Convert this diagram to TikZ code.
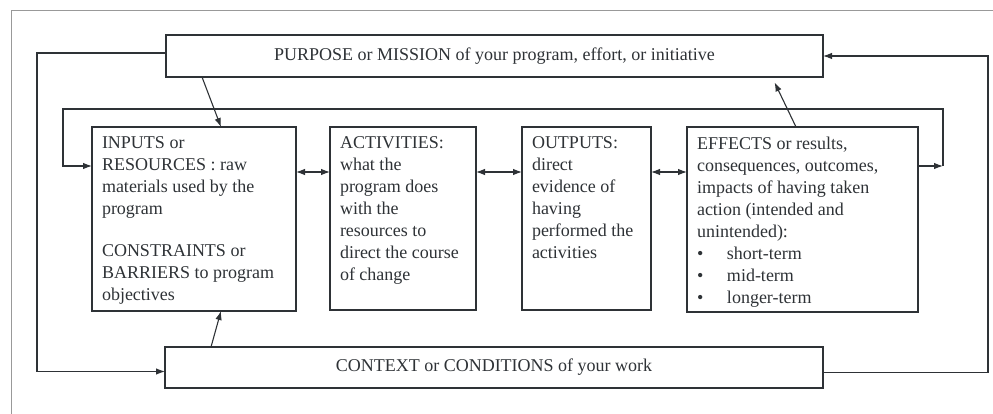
\documentclass[tikz,border=0pt]{standalone}
\usepackage{fontspec}
\setmainfont{Liberation Serif}
\usetikzlibrary{arrows.meta}
\definecolor{ink}{HTML}{2E3236}
\tikzset{
  stage/.style={draw=ink, line width=1.1pt, inner xsep=10pt, inner ysep=10pt,
    outer sep=0pt, anchor=north west, text=ink, font=\fontsize{18}{22}\selectfont},
  banner/.style={draw=ink, line width=1.1pt, outer sep=0pt, text=ink,
    font=\fontsize{18}{22}\selectfont},
  arr/.style={draw=ink, line width=1.1pt, -{Latex[length=9pt,width=6.5pt]}},
  dbl/.style={draw=ink, line width=1.1pt, {Latex[length=9pt,width=6.5pt]}-{Latex[length=9pt,width=6.5pt]}},
}
\begin{document}
\begin{tikzpicture}[x=1pt, y=-1pt]
    \useasboundingbox (0,0) rectangle (993,414);
    % the frame
    \draw[gray!80, line width=1pt] (11,414) -- (11,11) -- (993,11);
    % top and bottom bars
    \node[banner, minimum width=657pt, minimum height=42pt] (purpose) at (494.5,56)
        {PURPOSE or MISSION of your program, effort, or initiative};
    \node[banner, minimum width=658pt, minimum height=41pt] (context) at (494,367.5)
        {CONTEXT or CONDITIONS of your work};
    % the four stages
    \node[stage] (inputs) at (92,127) {\parbox[t][164pt][t]{184pt}{\raggedright
        INPUTS or\\ RESOURCES : raw\\ materials used by the\\ program\\[20pt]
        CONSTRAINTS or\\ BARRIERS to program\\ objectives}};
    \node[stage] (activities) at (330,127) {\parbox[t][163pt][t]{126pt}{\raggedright
        ACTIVITIES:\\ what the\\ program does\\ with the\\ resources to\\
        direct the course\\ of change}};
    \node[stage] (outputs) at (522,127) {\parbox[t][163pt][t]{109pt}{\raggedright
        OUTPUTS:\\ direct\\ evidence of\\ having\\ performed the\\ activities}};
    \node[stage] (effects) at (687,127) {\parbox[t][165pt][t]{211pt}{\raggedright
        EFFECTS or results,\\ consequences, outcomes,\\ impacts of having taken\\
        action (intended and\\ unintended):\\
        \makebox[30pt][l]{\textbullet}short-term\\
        \makebox[30pt][l]{\textbullet}mid-term\\
        \makebox[30pt][l]{\textbullet}longer-term}};
    % helper points for the loops
    \coordinate (row) at (0,172);
    \coordinate (row2) at (0,166);
    \coordinate (outl) at (37,200);
    \coordinate (outr) at (988,200);
    \coordinate (inr) at (943,166);
    \coordinate (inl) at (63,109);
    % arrows between the stages
    \draw[dbl] (inputs.east |- row) -- (activities.west |- row);
    \draw[dbl] (activities.east |- row) -- (outputs.west |- row);
    \draw[dbl] (outputs.east |- row) -- (effects.west |- row);
    % the loops
    \draw[arr] ([yshift=3pt]purpose.west) -| (outl) |- ([yshift=-4pt]context.west);
    \draw[arr] ([yshift=-5pt]context.east) -| (outr) |- (purpose.east);
    \draw[arr] (effects.east |- row2) -- (inr);
    \draw[arr] (inr) |- (inl) |- (inputs.west |- row2);
    % the slanted arrows
    \draw[arr] (purpose.south -| 202,0) -- (inputs.north -| 221,0);
    \draw[arr, shorten >=6pt] (effects.north -| 796,0) -- (purpose.south -| 772,0);
    \draw[arr] (context.north -| 211,0) -- (inputs.south -| 221,0);
\end{tikzpicture}
\end{document}
